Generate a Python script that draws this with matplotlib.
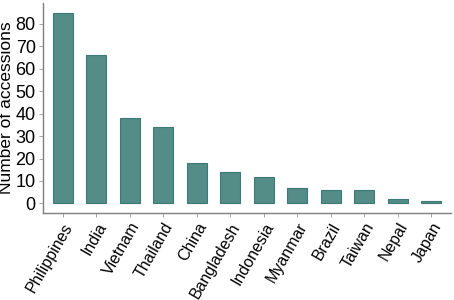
import matplotlib
matplotlib.use("Agg")
import matplotlib.pyplot as plt

countries = ["Philippines", "India", "Vietnam", "Thailand", "China", "Bangladesh",
             "Indonesia", "Myanmar", "Brazil", "Taiwan", "Nepal", "Japan"]
accessions = [85, 66, 38, 34, 18, 14, 12, 7, 6, 6, 2, 1]
yticks = [0, 10, 20, 30, 40, 50, 60, 70, 80]

plt.rcParams["font.family"] = ["Liberation Sans", "DejaVu Sans"]

fig = plt.figure(figsize=(4.54, 3.0), dpi=100)
ax = fig.add_axes([0.094, 0.29, 0.9, 0.70])

x = list(range(len(countries)))
ax.bar(x, accessions, width=0.59, color="#548c87", edgecolor="#3e7a75", linewidth=0.8)

ax.set_xlim(-0.6, len(countries) - 0.4)
ax.set_ylim(-4.25, 89.25)
ax.set_yticks(yticks)
ax.set_xticks(x)
ax.set_xticklabels(countries, rotation=60, ha="right", rotation_mode="anchor")
ax.tick_params(axis="both", color="#999999", length=3, width=0.6, pad=2)
ax.tick_params(axis="y", labelsize=13)
ax.tick_params(axis="x", labelsize=11.5)
ax.set_ylabel("Number of accessions", fontsize=12.5, labelpad=1)

for side in ["top", "right"]:
    ax.spines[side].set_visible(False)
for side in ["left", "bottom"]:
    ax.spines[side].set_color("#7f7f7f")
    ax.spines[side].set_linewidth(1.0)

fig.savefig("out.png", dpi=100)
